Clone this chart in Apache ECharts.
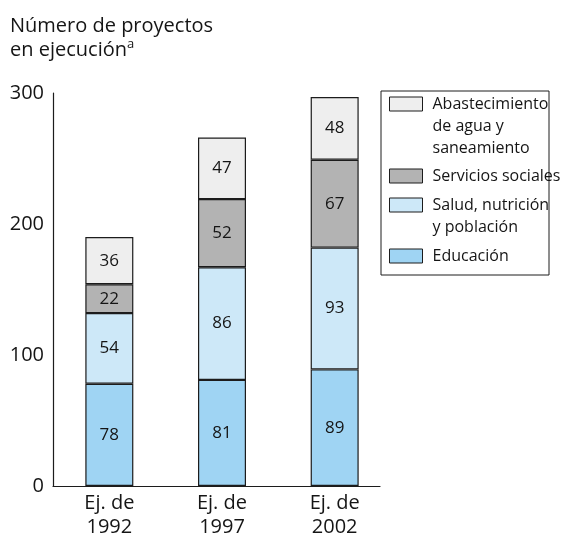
<!DOCTYPE html>
<html>
<head>
<meta charset="utf-8">
<script src="https://cdn.jsdelivr.net/npm/echarts@6/dist/echarts.min.js"></script>
<style>
    html, body { margin: 0; padding: 0; background: #fff; }
    #chart { width: 581px; height: 535px; }
</style>
</head>
<body>
<div id="chart"></div>
<script>
// 数据
var categories = ['Ej. de\n1992', 'Ej. de\n1997', 'Ej. de\n2002'];
var educacion = [78, 81, 89];
var salud = [54, 86, 93];
var servicios = [22, 52, 67];
var abastecimiento = [36, 47, 48];
var yTicks = [0, 100, 200, 300];

var FONT = '"Open Sans", sans-serif';
var INK = '#151515';

var chart = echarts.init(document.getElementById('chart'));

function barSeries(name, data, color) {
    return {
        name: name,
        type: 'bar',
        stack: 'total',
        barWidth: 48,
        data: data,
        itemStyle: {
            color: color,
            borderColor: '#1c1c1c',
            borderWidth: 1.2
        },
        label: {
            show: true,
            position: 'inside',
            fontFamily: FONT,
            fontSize: 17,
            color: INK
        },
        emphasis: { disabled: true }
    };
}

/* 图例, 每项一个; 空行把图标对齐到第一行 */
function legendItem(name, top, blanks) {
    return {
        orient: 'vertical',
        left: 389,
        top: top,
        padding: 0,
        selectedMode: false,
        itemWidth: 33,
        itemHeight: 14,
        icon: 'rect',
        itemStyle: {
            borderColor: '#1c1c1c',
            borderWidth: 1
        },
        formatter: function(n) {
            var s = '', i;
            for (i = 0; i < blanks; i++) {
                s += '{e| }\n';
            }
            return s + n.split('\n').map(function(l) {
                return '{a|' + l + '}';
            }).join('\n');
        },
        textStyle: {
            rich: {
                a: { fontFamily: FONT, fontSize: 16, lineHeight: 22, color: INK, padding: [0, 0, 0, 5] },
                e: { fontFamily: FONT, fontSize: 16, lineHeight: 22 }
            }
        },
        data: [name]
    };
}

var option = {
    animation: false,
    title: {
        left: 10,
        top: 14,
        padding: 0,
        text: '{t|Número de proyectos}\n{t|en ejecución}{s|a}',
        textStyle: {
            rich: {
                t: { fontFamily: FONT, fontSize: 20, fontWeight: 'normal', lineHeight: 24, color: INK },
                s: { fontFamily: FONT, fontSize: 13, fontWeight: 'normal', lineHeight: 24, color: INK, verticalAlign: 'top' }
            }
        }
    },
    legend: [
        legendItem('Abastecimiento\nde agua y\nsaneamiento', 52, 2),
        legendItem('Servicios sociales', 168, 0),
        legendItem('Salud, nutrición\ny población', 175, 1),
        legendItem('Educación', 248, 0)
    ],
    graphic: [{
        type: 'rect',
        shape: { x: 381, y: 91, width: 168, height: 184 },
        style: { fill: 'none', stroke: '#1c1c1c', lineWidth: 1 }
    }],
    grid: [
        { left: 53, right: 190, top: 93, bottom: 49, outerBoundsMode: 'none', containLabel: false },
        { left: 53, right: 201, top: 486, bottom: 49, outerBoundsMode: 'none', containLabel: false }
    ],
    xAxis: [
        {
            type: 'category',
            gridIndex: 0,
            data: categories,
            axisLine: { show: false },
            axisTick: { show: false },
            axisLabel: {
                margin: 5,
                fontFamily: FONT,
                fontSize: 20,
                lineHeight: 24,
                color: INK
            }
        },
        {
            type: 'value',
            gridIndex: 1,
            axisLine: { show: true, onZero: false, lineStyle: { color: '#1c1c1c', width: 1.2 } },
            axisTick: { show: false },
            axisLabel: { show: false },
            splitLine: { show: false }
        }
    ],
    yAxis: [
        {
            type: 'value',
            gridIndex: 0,
            min: yTicks[0],
            max: yTicks[yTicks.length - 1],
            interval: 100,
            axisLine: { show: true, lineStyle: { color: '#1c1c1c', width: 1.2 } },
            axisTick: { show: false },
            splitLine: { show: false },
            axisLabel: {
                margin: 9,
                fontFamily: FONT,
                fontSize: 20,
                color: INK
            }
        },
        {
            type: 'value',
            gridIndex: 1,
            show: false
        }
    ],
    series: [
        barSeries('Educación', educacion, '#9fd4f3'),
        barSeries('Salud, nutrición\ny población', salud, '#cde8f8'),
        barSeries('Servicios sociales', servicios, '#b3b3b3'),
        barSeries('Abastecimiento\nde agua y\nsaneamiento', abastecimiento, '#eeeeee')
    ]
};

chart.setOption(option);
</script>
</body>
</html>
